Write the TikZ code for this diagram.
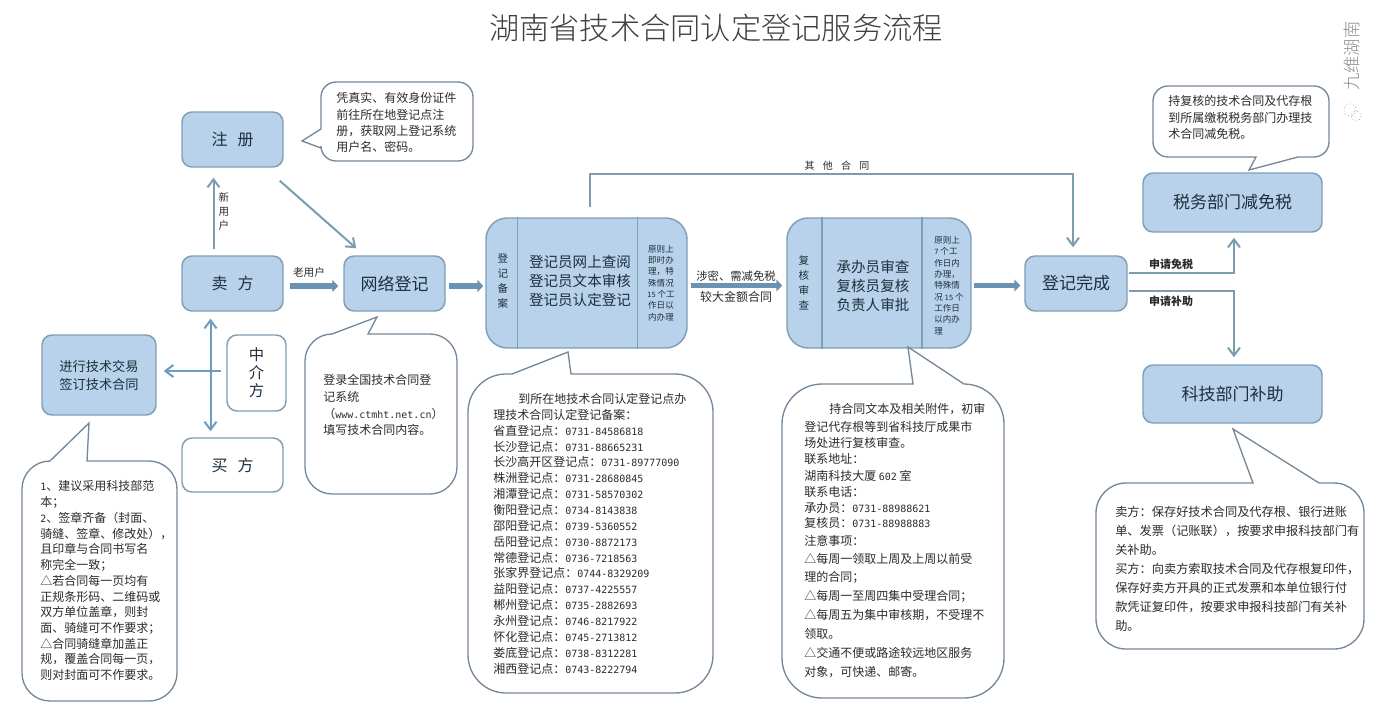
\documentclass[tikz,border=0pt]{standalone}
\usepackage{fontspec}
\usetikzlibrary{arrows.meta,calc}
\setmainfont{Noto Sans CJK SC}
\newfontfamily\thinf{Noto Sans CJK SC Light}
\newfontfamily\digf[Scale=0.833]{DejaVu Sans Mono}
\newcommand\D[1]{{\digf #1}}
\definecolor{boxfill}{HTML}{B7D2EA}
\definecolor{boxline}{HTML}{7F9FB5}
\definecolor{conncol}{HTML}{7C9DB0}
\definecolor{blockcol}{HTML}{6A92B2}
\definecolor{bluecol}{HTML}{6C9DBF}
\definecolor{bubline}{HTML}{75889A}
\definecolor{inktext}{HTML}{1E2E3C}
\definecolor{bubtext}{HTML}{2B2B2B}
\newcommand\bubble[8]{% x1 y1 x2 y2 r toptail bottomtail lefttail
  \draw[bubstyle] ({#1+#5},#2) #6 -- ({#3-#5},#2)
    .. controls ({#3-.45*#5},#2) and (#3,{#2+.45*#5}) .. (#3,{#2+#5})
    -- (#3,{#4-#5})
    .. controls (#3,{#4-.45*#5}) and ({#3-.45*#5},#4) .. ({#3-#5},#4)
    #7 -- ({#1+#5},#4)
    .. controls ({#1+.45*#5},#4) and (#1,{#4-.45*#5}) .. (#1,{#4-#5})
    #8 -- (#1,{#2+#5})
    .. controls (#1,{#2+.45*#5}) and ({#1+.45*#5},#2) .. ({#1+#5},#2) -- cycle;}
\tikzset{
  bubstyle/.style={draw=bubline,line width=1pt,fill=white},
  flowbox/.style={draw=boxline,line width=1.1pt,fill=boxfill,rounded corners=7.5pt,inner sep=0pt,text=inktext,align=center},
  plainbox/.style={flowbox,fill=white},
  bigbox/.style={flowbox,rounded corners=16pt},
  divider/.style={draw=boxline,line width=.8pt},
  conn/.style={draw=conncol,line width=1.5pt,-{Straight Barb[length=6pt,width=9pt,line width=1.5pt]}},
  bluearrow/.style={draw=bluecol,line width=1.5pt},
  block/.style={draw=blockcol,line width=4.2pt,-{Triangle[length=4.5pt,width=9pt]}},
  bubbletext/.style={anchor=north west,inner sep=0pt,align=left,text=bubtext,font=\fontsize{9}{11.9}\selectfont},
  smalllabel/.style={inner sep=0pt,align=center,text=bubtext,font=\fontsize{7.9}{10.5}\selectfont},
  sidecol/.style={inner sep=0pt,align=center,text=inktext,font=\fontsize{6.4}{8.5}\selectfont},
  maincol/.style={inner sep=0pt,align=center,text=inktext,font=\fontsize{10.9}{14.2}\selectfont},
}
\begin{document}
\begin{tikzpicture}[x=0.75pt,y=-0.75pt]
\useasboundingbox (0,0) rectangle (1378,707);
\fill[white] (0,0) rectangle (1378,707);
\node[inner sep=0pt,text=black!75] (title) at (716,28) {\fontsize{22.7}{26}\selectfont\thinf 湖南省技术合同认定登记服务流程};

% watermark
\node[rotate=90,inner sep=0pt,text=black!45] (mark) at (1352,56) {\fontsize{13}{15}\selectfont\thinf 九维湖南};
\draw[black!35,dotted,line width=.6pt] (1350,110) circle[radius=6];
\draw[black!35,dotted,line width=.6pt] (1356,116) circle[radius=5];

% boxes
\node[flowbox,minimum width=75.75pt,minimum height=41.25pt,font=\fontsize{12}{14}\selectfont] (reg) at (232.5,139.5) {注\hspace{7.5pt}册};
\node[flowbox,minimum width=75.75pt,minimum height=41.25pt,font=\fontsize{12}{14}\selectfont] (seller) at (232.5,283.5) {卖\hspace{7.5pt}方};
\node[flowbox,minimum width=75.75pt,minimum height=41.25pt,font=\fontsize{12.75}{15}\selectfont] (net) at (394.5,283.5) {网络登记};
\node[flowbox,minimum width=85.5pt,minimum height=60pt,font=\fontsize{9.9}{13.5}\selectfont] (trade) at (99,375) {进行技术交易\\签订技术合同};
\node[plainbox,minimum width=44.25pt,minimum height=57pt,font=\fontsize{11.5}{13.5}\selectfont] (medi) at (256.5,373) {中\\介\\方};
\node[plainbox,minimum width=75.75pt,minimum height=40.5pt,font=\fontsize{12}{14}\selectfont] (buyer) at (232.5,465) {买\hspace{7.5pt}方};

\node[bigbox,minimum width=150.75pt,minimum height=97.5pt] (rec) at (586.5,283) {};
\node[bigbox,minimum width=138pt,minimum height=97.5pt] (rev) at (879,283) {};
\draw[divider] ([xshift=-52.1pt]rec.north) -- ([xshift=-52.1pt]rec.south);
\draw[divider] ([xshift=37.9pt]rec.north) -- ([xshift=37.9pt]rec.south);
\draw[divider] ([xshift=-42.75pt]rev.north) -- ([xshift=-42.75pt]rev.south);
\draw[divider] ([xshift=32.25pt]rev.north) -- ([xshift=32.25pt]rev.south);

\node[smalllabel,text=inktext,font=\fontsize{7.9}{11.2}\selectfont] (recv) at (503,281) {登\\记\\备\\案};
\node[maincol] (recm) at (580,281) {登记员网上查阅\\登记员文本审核\\登记员认定登记};
\node[sidecol] (recs) at (661,283) {原则上\\即时办\\理，特\\殊情况\\\D{15} 个工\\作日以\\内办理};
\node[smalllabel,text=inktext,font=\fontsize{7.9}{11.2}\selectfont] (revv) at (804,282.5) {复\\核\\审\\查};
\node[maincol] (revm) at (873,286) {承办员审查\\复核员复核\\负责人审批};
\node[sidecol,align=left,anchor=west] (revs) at (934,285.5) {原则上\\\D{7} 个工\\作日内\\办理，\\特殊情\\况 \D{15} 个\\工作日\\以内办\\理};

\node[flowbox,minimum width=76.5pt,minimum height=41.25pt,font=\fontsize{12.75}{15}\selectfont] (done) at (1076,283.5) {登记完成};
\node[flowbox,minimum width=134.25pt,minimum height=44.25pt,font=\fontsize{12.75}{15}\selectfont] (tax) at (1232.5,202.5) {税务部门减免税};
\node[flowbox,minimum width=134.25pt,minimum height=43.5pt,font=\fontsize{12.75}{15}\selectfont] (sub) at (1232.5,394) {科技部门补助};

% connectors
\coordinate (oc) at (1073,174);
\draw[conn,shorten <=4.5pt,shorten >=7.5pt] ([xshift=-14.25pt]seller.north) -- ([xshift=-14.25pt]reg.south);
\draw[conn] ([xshift=-3pt,yshift=-9.75pt]reg.south east) -- ([xshift=9.75pt,yshift=5.25pt]net.north west);
\draw[block,shorten <=4.5pt,shorten >=3.75pt] ([yshift=-1.9pt]seller.east) -- ([yshift=-1.9pt]net.west);
\draw[block,shorten <=2.25pt,shorten >=1.5pt] ([yshift=-1.9pt]net.east) -- ([yshift=-1.9pt]net.east -| rec.west);
\draw[block,shorten <=2.25pt,shorten >=3pt] ([yshift=-1.9pt]rec.east) -- ([yshift=-1.9pt]rev.west);
\draw[block,shorten <=1.5pt,shorten >=3pt] ([yshift=-1.9pt]rev.east) -- ([yshift=-1.9pt]rev.east -| done.west);
\draw[conn,shorten >=6pt] ([xshift=2.6pt,yshift=7.5pt]rec.north) |- (oc) -- ([xshift=-2.25pt]done.north);
\draw[conn,shorten >=3.75pt] ([xshift=.75pt,yshift=7.9pt]done.east) -| ([xshift=1.1pt]tax.south);
\draw[conn,shorten >=5.25pt] ([xshift=.75pt,yshift=-5.6pt]done.east) -| ([xshift=1.1pt]sub.north);
\draw[conn,bluearrow,{Straight Barb[length=6pt,width=9pt,line width=1.5pt]}-{Straight Barb[length=6pt,width=9pt,line width=1.5pt]},shorten <=5.25pt,shorten >=4.5pt] ([xshift=-16.5pt]seller.south) -- ([xshift=-16.5pt]buyer.north);
\draw[conn,bluearrow,shorten <=3.75pt,shorten >=5.25pt] ([yshift=1.5pt]medi.west) -- ([yshift=1.5pt]medi.west -| trade.east);

% connector labels
\node[smalllabel] (lnew) at (224,212) {新\\用\\户};
\node[smalllabel,font=\fontsize{8}{10}\selectfont] (lold) at (309,272) {老用户};
\node[smalllabel,font=\fontsize{8.5}{10}\selectfont] (lsec) at (736,276) {涉密、需减免税};
\node[smalllabel,font=\fontsize{9}{10}\selectfont] (lbig) at (736,297) {较大金额合同};
\node[smalllabel,font=\fontsize{7.5}{10}\selectfont] (loth) at (837,166) {其\hspace{6.2pt}他\hspace{6.2pt}合\hspace{6.2pt}同};
\node[smalllabel,font=\fontsize{8.25}{10}\selectfont\bfseries] (lfree) at (1171,264) {申请免税};
\node[smalllabel,font=\fontsize{8.25}{10}\selectfont\bfseries] (laid) at (1171,301) {申请补助};

% callouts
\bubble{321}{82}{473}{161}{15}{}{}{-- (321,148) -- (302,141) -- (321,129)}
\node[bubbletext,font=\fontsize{9}{12.2}\selectfont] (t1) at (336,92.5) {凭真实、有效身份证件\\前往所在地登记点注\\册，获取网上登记系统\\用户名、密码。};

\bubble{305}{334}{457}{494}{27}{-- (377,317) -- (368,334)}{}{}
\node[bubbletext,font=\fontsize{9}{12.5}\selectfont] (t2) at (323,374.5) {登录全国技术合同登\\记系统\\（\D{www.ctmht.net.cn}）\\填写技术合同内容。};

\bubble{22}{461}{177}{701}{28}{-- (89,423) -- (87,461)}{}{}
\node[bubbletext,font=\fontsize{9}{11.8}\selectfont] (t3) at (40,480.5) {\D{1}、建议采用科技部范\\本；\\\D{2}、签章齐备（封面、\\骑缝、签章、修改处），\\且印章与合同书写名\\称完全一致；\\△若合同每一页均有\\正规条形码、二维码或\\双方单位盖章，则封\\面、骑缝可不作要求；\\△合同骑缝章加盖正\\规，覆盖合同每一页，\\则对封面可不作要求。};

\bubble{468}{374}{713}{693}{38}{-- (512,374) -- (568,352) -- (571,374)}{}{}
\node[bubbletext] (t4) at (493,393) {\hspace*{18.75pt}到所在地技术合同认定登记点办\\理技术合同认定登记备案：\\省直登记点：\D{0731-84586818}\\长沙登记点：\D{0731-88665231}\\长沙高开区登记点：\D{0731-89777090}\\株洲登记点：\D{0731-28680845}\\湘潭登记点：\D{0731-58570302}\\衡阳登记点：\D{0734-8143838}\\邵阳登记点：\D{0739-5360552}\\岳阳登记点：\D{0730-8872173}\\常德登记点：\D{0736-7218563}\\张家界登记点：\D{0744-8329209}\\益阳登记点：\D{0737-4225557}\\郴州登记点：\D{0735-2882693}\\永州登记点：\D{0746-8217922}\\怀化登记点：\D{0745-2713812}\\娄底登记点：\D{0738-8312281}\\湘西登记点：\D{0743-8222794}};

\bubble{782}{384}{1004}{698}{40}{-- (913,384) -- (908,347) -- (964,384)}{}{}
\node[bubbletext,font=\fontsize{9}{11.85}\selectfont] (t5) at (804,403.5) {\hspace*{18.75pt}持合同文本及相关附件，初审\\[1.1pt]登记代存根等到省科技厅成果市\\[.7pt]场处进行复核审查。\\联系地址：\\[.7pt]湖南科技大厦 \D{602} 室\\联系电话：\\承办员：\D{0731-88988621}\\复核员：\D{0731-88988883}\\[1.1pt]注意事项：\\[1.9pt]△每周一领取上周及上周以前受\\[1.9pt]理的合同；\\[2.4pt]△每周一至周四集中受理合同；\\[2.2pt]△每周五为集中审核期，不受理不\\[2.4pt]领取。\\[2.6pt]△交通不便或路途较远地区服务\\[2.4pt]对象，可快递、邮寄。};

\bubble{1153}{86}{1329}{157}{15}{}{-- (1298,157) -- (1249,170) -- (1256,157)}{}
\node[bubbletext,font=\fontsize{9}{12.4}\selectfont] (t6) at (1168,95.5) {持复核的技术合同及代存根\\到所属缴税税务部门办理技\\术合同减免税。};

\bubble{1096}{483}{1364}{649}{30}{-- (1253,483) -- (1233,429) -- (1319,483)}{}{}
\node[bubbletext,font=\fontsize{9.15}{14.25}\selectfont] (t7) at (1115,505.5) {卖方：保存好技术合同及代存根、银行进账\\单、发票（记账联），按要求申报科技部门有\\关补助。\\买方：向卖方索取技术合同及代存根复印件，\\保存好卖方开具的正式发票和本单位银行付\\款凭证复印件，按要求申报科技部门有关补\\助。};
\end{tikzpicture}
\end{document}
